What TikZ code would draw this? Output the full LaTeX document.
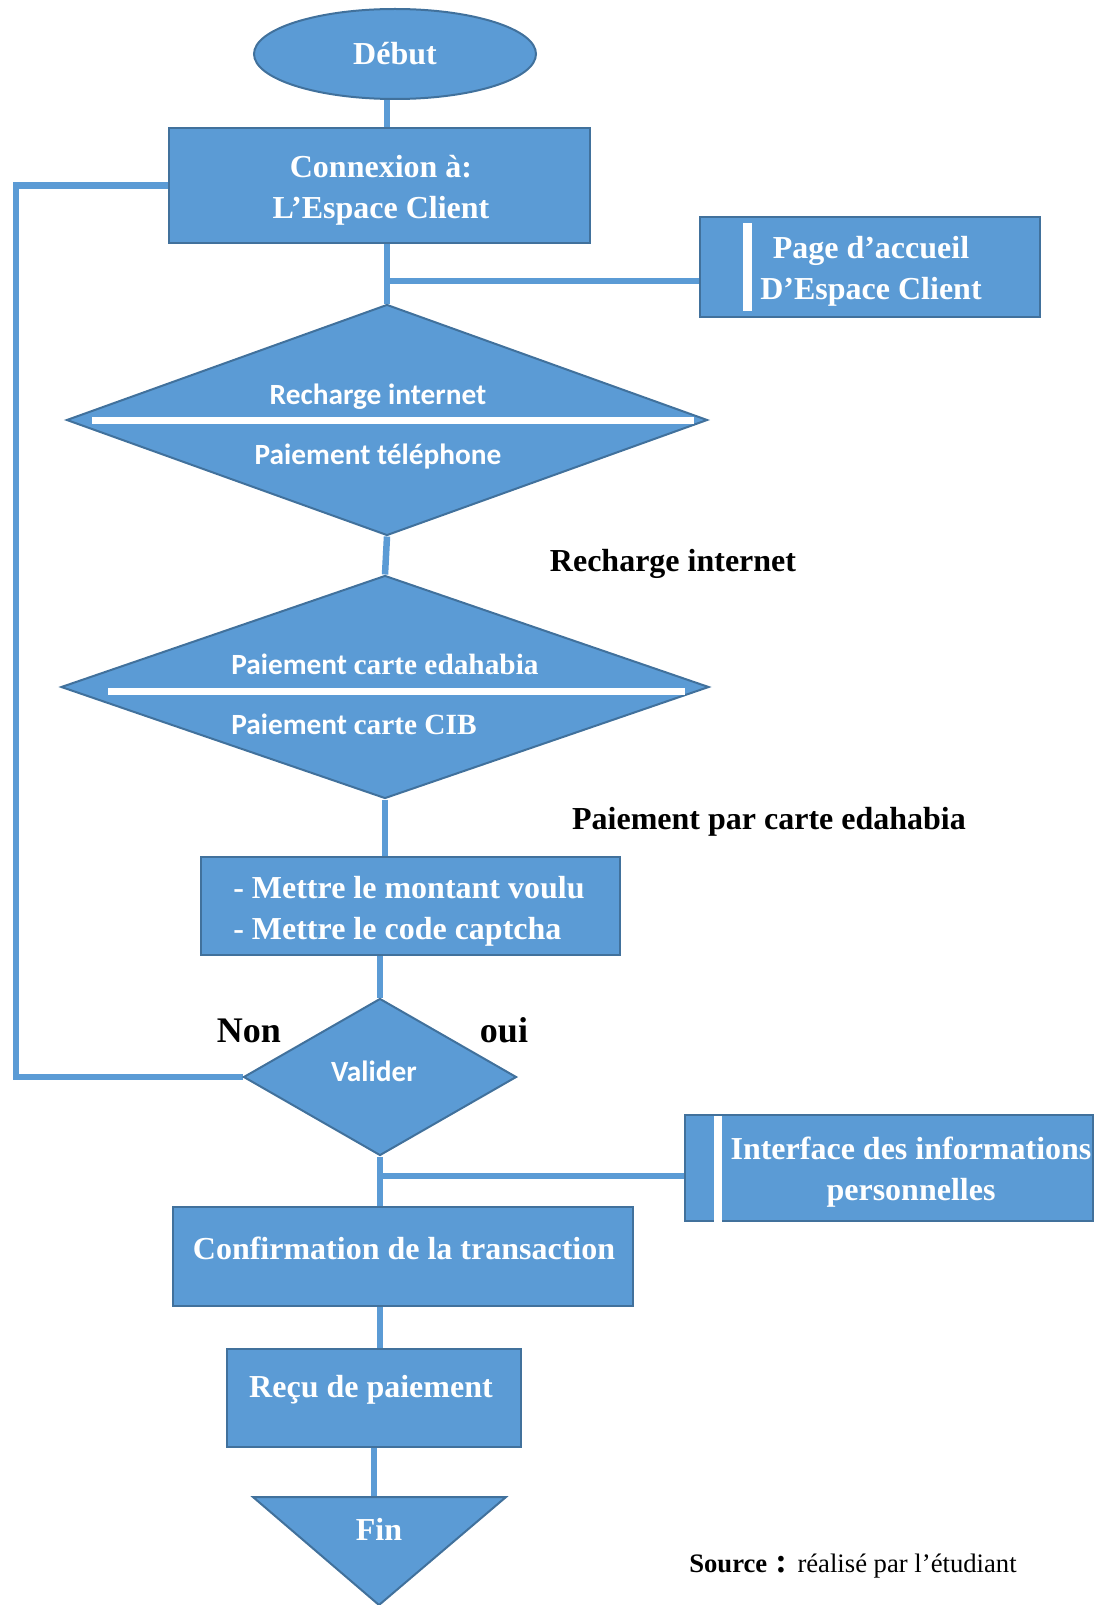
\documentclass[tikz,border=0pt]{standalone}
\usepackage{fontspec}
\setmainfont{Liberation Serif}
\newfontfamily\calibfont{Carlito}
\usetikzlibrary{shapes.geometric}
\definecolor{boxblue}{HTML}{5B9BD5}
\definecolor{boxedge}{HTML}{41719C}
\newdimen\pxu \pxu=0.75pt
\pgfdeclarelayer{bg}
\pgfsetlayers{bg,main}

\begin{document}
\begin{tikzpicture}[x=0.75pt,y=-0.75pt,
  shapebox/.style={draw=boxedge, fill=boxblue, line width=2\pxu, inner sep=0pt},
  rectbox/.style={shapebox, rectangle},
  choice/.style={shapebox, diamond},
  wlabel/.style={text=white, font=\bfseries\fontsize{24}{30.75}\selectfont, inner sep=0pt, align=center},
  clabel/.style={text=white, font=\calibfont\bfseries\fontsize{22}{26}\selectfont, inner sep=0pt},
  blabel/.style={text=black, font=\bfseries\fontsize{24}{28}\selectfont, inner sep=0pt},
  link/.style={draw=boxblue, line width=6.5\pxu, line join=miter},
  whitebar/.style={fill=white, draw=none}
]
\useasboundingbox (0,0) rectangle (1109,1605);

% start
\node[shapebox, ellipse, minimum width=282\pxu, minimum height=90\pxu,
      text=white, font=\bfseries\fontsize{24}{28}\selectfont] (debut) at (395,54) {Début};

% login box
\node[rectbox, minimum width=421\pxu, minimum height=115\pxu] (connexion) at (379.5,185.5) {};
\node[wlabel] (connexionText) at (381,190) {Connexion à:\\L’Espace Client};

% home page box
\node[rectbox, minimum width=340\pxu, minimum height=100\pxu] (page) at (870,267) {};
\fill[whitebar] (743,223) rectangle (752,311);
\node[wlabel] (pageText) at (871,271) {Page d’accueil\\D’Espace Client};

% first choice
\node[choice, minimum width=641\pxu, minimum height=231\pxu] (d1) at (387,420) {};
\fill[whitebar] (92,416.5) rectangle (694,423.5);
\node[clabel] (d1a) at (378,397) {Recharge internet};
\node[clabel] (d1b) at (378,457) {Paiement téléphone};

% second choice
\node[choice, minimum width=648\pxu, minimum height=223\pxu] (d2) at (385,687) {};
\fill[whitebar] (108,687.5) rectangle (685,694.5);
\node[clabel, anchor=west] (d2a) at (231,664) {Paiement {\rmfamily carte edahabia}};
\node[clabel, anchor=west] (d2b) at (231,724) {Paiement {\rmfamily carte CIB}};

% side labels
\node[blabel] (lblRecharge) at (673,564) {Recharge internet};
\node[blabel] (lblPaiement) at (769,822) {Paiement par carte edahabia};

% amount and captcha
\node[rectbox, minimum width=419\pxu, minimum height=98\pxu] (mettre) at (410.5,906) {};
\node[wlabel, align=left, anchor=west] (mettreText) at (233,911) {- Mettre le montant voulu\\- Mettre le code captcha};

% validation
\node[choice, minimum width=273\pxu, minimum height=157\pxu] (valider) at (380,1077) {};
\node[clabel] (validerText) at (374,1071) {Valider};
\node[blabel, font=\bfseries\fontsize{27}{30}\selectfont] (non) at (249,1031) {Non};
\node[blabel, font=\bfseries\fontsize{27}{30}\selectfont] (oui) at (504,1030) {oui};

% personal information
\node[rectbox, minimum width=408\pxu, minimum height=106\pxu] (interface) at (889,1168) {};
\fill[whitebar] (714,1116) rectangle (722,1222);
\node[wlabel] (interfaceText) at (911,1172) {Interface des informations\\personnelles};

% confirmation
\node[rectbox, minimum width=460\pxu, minimum height=99\pxu] (confirmation) at (403,1256.5) {};
\node[wlabel] (confirmationText) at (404,1248) {Confirmation de la transaction};

% receipt
\node[rectbox, minimum width=294\pxu, minimum height=98\pxu] (recu) at (374,1398) {};
\node[wlabel] (recuText) at (371,1390) {Reçu de paiement};

% end
\draw[shapebox] (253,1497) -- (506,1497) -- (379,1605) -- cycle;
\coordinate (fintop) at (374,1497);
\node[wlabel] (fin) at (379,1529) {Fin};

% source
\node[anchor=west, inner sep=0pt, font=\fontsize{20}{22}\selectfont] (source) at (689,1566)
  {\textbf{Source}\hspace{6pt}{\bfseries\fontsize{26}{26}\selectfont :}\hspace{8pt}réalisé par l’étudiant};

% connectors
\coordinate (j1) at (387,281);
\coordinate (j2) at (380,1176);
\coordinate (loopx) at (16,600);
\begin{pgfonlayer}{bg}
\draw[link] (debut.south -| d1.north) -- (connexion.north -| d1.north);
\draw[link] (connexion.south -| d1.north) -- (d1.north);
\draw[link] (j1) -- (j1 -| page.west);
\draw[link] (d1.south) -- (d2.north);
\draw[link] (d2.south) -- (d2.south |- mettre.north);
\draw[link] (valider.north |- mettre.south) -- (valider.north);
\draw[link] (valider.south) -- (valider.south |- confirmation.north);
\draw[link] (j2) -- (j2 -| interface.west);
\draw[link] (valider.south |- confirmation.south) -- (valider.south |- recu.north);
\draw[link] (recu.south) -- (fintop);
\draw[link] (valider.west) -| (loopx) |- (connexion.west);
\end{pgfonlayer}
\end{tikzpicture}
\end{document}
